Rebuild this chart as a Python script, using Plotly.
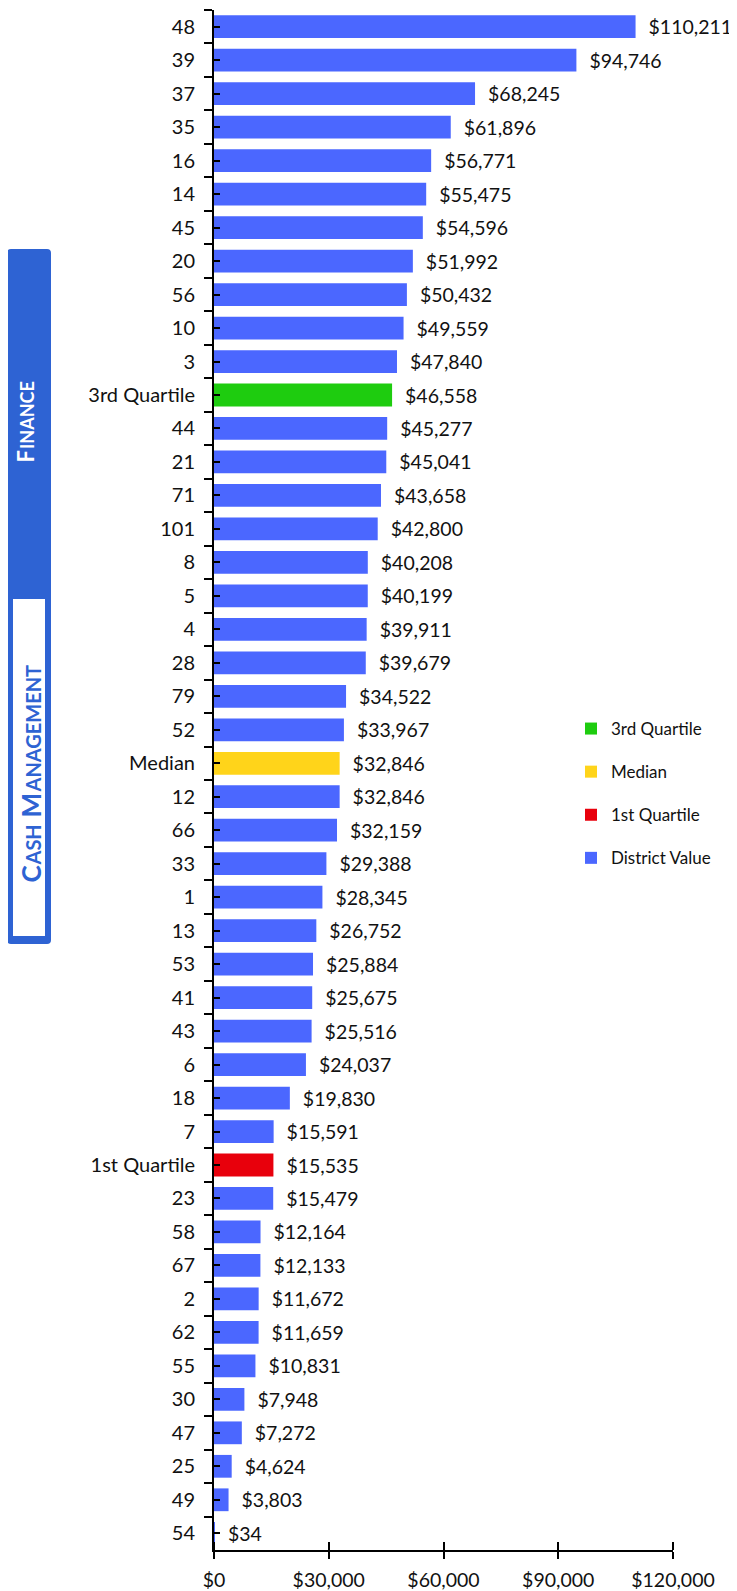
import plotly.graph_objects as go

# Données (de haut en bas)
districts = ["48", "39", "37", "35", "16", "14", "45", "20", "56", "10", "3",
             "44", "21", "71", "101", "8", "5", "4", "28", "79", "52",
             "12", "66", "33", "1", "13", "53", "41", "43", "6", "18", "7",
             "23", "58", "67", "2", "62", "55", "30", "47", "25", "49", "54"]
district_values = [110211, 94746, 68245, 61896, 56771, 55475, 54596, 51992, 50432, 49559, 47840,
                   45277, 45041, 43658, 42800, 40208, 40199, 39911, 39679, 34522, 33967,
                   32846, 32159, 29388, 28345, 26752, 25884, 25675, 25516, 24037, 19830, 15591,
                   15479, 12164, 12133, 11672, 11659, 10831, 7948, 7272, 4624, 3803, 34]

q3_value = 46558
median_value = 32846
q1_value = 15535

category_order = ["48", "39", "37", "35", "16", "14", "45", "20", "56", "10", "3",
                  "3rd Quartile", "44", "21", "71", "101", "8", "5", "4", "28", "79", "52",
                  "Median", "12", "66", "33", "1", "13", "53", "41", "43", "6", "18", "7",
                  "1st Quartile", "23", "58", "67", "2", "62", "55", "30", "47", "25", "49", "54"]

x_ticks = [0, 30000, 60000, 90000, 120000]

FONT = "Lato"
OFF = 8                      # marge du <body> de la page
W, H = 737 - OFF, 1591 - OFF
ML, MR, MT, MB = 206, 64, 2, 41
BLUE_PANEL = "#2E63D3"


def px_x(x):
    """pixel de la page -> paper (x)"""
    return (x - OFF - ML) / (W - ML - MR)


def px_y(y):
    """pixel de la page -> paper (y)"""
    return (H - MB - (y - OFF)) / (H - MT - MB)


fig = go.Figure()

series = [
    ("3rd Quartile", ["3rd Quartile"], [q3_value], "#1ECC0F"),
    ("Median", ["Median"], [median_value], "#FFD41A"),
    ("1st Quartile", ["1st Quartile"], [q1_value], "#E8000C"),
    ("District Value", districts, district_values, "#4B67FF"),
]

for i, (name, cats, vals, color) in enumerate(series):
    fig.add_trace(go.Bar(
        x=vals,
        y=cats,
        orientation="h",
        name=name,
        marker=dict(color=color, line=dict(width=0)),
        width=0.68,
        text=vals,
        texttemplate="  $%{x:,}",
        textposition="outside",
        constraintext="none",
        cliponaxis=False,
        textfont=dict(family=FONT, size=19.5, color="#111111"),
        legendgroup=str(i),
        hoverinfo="skip",
    ))


# panneau latéral
def rounded_rect(x0, y0, x1, y1, r):
    return (f"M {x0+r},{y0} L {x1-r},{y0} Q {x1},{y0} {x1},{y0+r} "
            f"L {x1},{y1-r} Q {x1},{y1} {x1-r},{y1} L {x0+r},{y1} "
            f"Q {x0},{y1} {x0},{y1-r} L {x0},{y0+r} Q {x0},{y0} {x0+r},{y0} Z")


def to_paper_path(x0, y0, x1, y1, r):
    pts = rounded_rect(x0, y0, x1, y1, r).split(" ")
    out = []
    for p in pts:
        if "," in p:
            a, b = p.split(",")
            out.append(f"{px_x(float(a)):.5f},{px_y(float(b)):.5f}")
        else:
            out.append(p)
    return " ".join(out)


fig.add_shape(type="path", xref="paper", yref="paper",
              path=to_paper_path(7, 249, 51, 944, 4),
              fillcolor=BLUE_PANEL, line=dict(width=0), layer="above")
fig.add_shape(type="rect", xref="paper", yref="paper",
              x0=px_x(13), x1=px_x(45), y0=px_y(936), y1=px_y(599),
              fillcolor="white", line=dict(width=0), layer="above")


def label(text, x, y, size, color):
    fig.add_annotation(xref="paper", yref="paper", x=px_x(x), y=px_y(y),
                       xanchor="center", yanchor="middle",
                       text=f"<b>{text}</b>", textangle=-90, showarrow=False,
                       font=dict(family=FONT, size=size, color=color))


# petites capitales : une grande lettre + le reste plus petit
label("F", 25.5, 457, 22, "white")
label("INANCE", 27, 415, 18, "white")
label("C", 30.5, 874, 26, BLUE_PANEL)
label("ASH", 32.5, 845, 20, BLUE_PANEL)
label("M", 30.5, 805, 26, BLUE_PANEL)
label("ANAGEMENT", 32.5, 729, 20, BLUE_PANEL)

# graduations de l'axe des catégories, entre les barres
y_boundaries = [i - 0.5 for i in range(len(category_order) + 1)]

fig.update_layout(
    width=W,
    height=H,
    margin=dict(l=ML, r=MR, t=MT, b=MB, autoexpand=False),
    plot_bgcolor="white",
    paper_bgcolor="white",
    barmode="overlay",
    font=dict(family=FONT, size=19, color="#111111"),
    showlegend=True,
    legend=dict(
        x=px_x(571), y=px_y(711), xanchor="left", yanchor="top",
        font=dict(family=FONT, size=17, color="#111111"),
        tracegroupgap=18,
        bgcolor="rgba(0,0,0,0)",
    ),
    xaxis=dict(
        range=[0, 120000],
        tickvals=x_ticks,
        tickformat="$,",
        showgrid=False,
        zeroline=False,
        showline=True,
        linecolor="black",
        linewidth=2,
        ticks="outside",
        ticklen=7,
        tickwidth=2,
        tickcolor="black",
        minor=dict(tickvals=x_ticks, ticks="inside", ticklen=8,
                   tickwidth=2, tickcolor="black", showgrid=False),
        ticklabelstandoff=5,
        automargin=False,
        tickfont=dict(family=FONT, size=19.5, color="#111111"),
    ),
    yaxis=dict(
        type="category",
        categoryorder="array",
        categoryarray=category_order,
        autorange="reversed",
        showgrid=False,
        showline=True,
        linecolor="black",
        linewidth=2,
        ticks="outside",
        tickson="boundaries",
        ticklen=8,
        tickwidth=2,
        tickcolor="black",
        minor=dict(tickvals=y_boundaries, ticks="inside", ticklen=6,
                   tickwidth=2, tickcolor="black", showgrid=False),
        ticklabelstandoff=13,
        automargin=False,
        tickfont=dict(family=FONT, size=20, color="#111111"),
    ),
)

fig.write_html("out.html")
